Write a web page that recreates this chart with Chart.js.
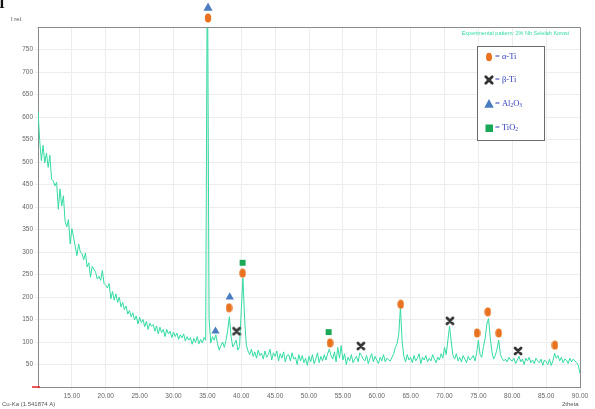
<!DOCTYPE html>
<html>
<head>
<meta charset="utf-8">
<script src="https://cdn.jsdelivr.net/npm/chart.js@4.4.1/dist/chart.umd.min.js"></script>
<style>
  html, body { margin: 0; padding: 0; background: #fff; }
  #wrap { width: 595px; height: 409px; }
</style>
</head>
<body>
<div id="wrap"><canvas id="xrd" width="595" height="409"></canvas></div>
<script>
// 2theta sampling grid of the scan
const START_2THETA = 10;
const STEP_2THETA = 0.25;

// relative intensity, four readings per degree (x.00, x.25, x.50, x.75)
const intensity = [
  612, 548, 503, 537,   // 10
  498, 520, 488, 515,   // 11
  462, 458, 447, 455,   // 12
  395, 440, 402, 425,   // 13
  368, 356, 372, 318,   // 14
  352, 333, 312, 292,   // 15
  318, 300, 296, 283,   // 16
  298, 267, 276, 244,   // 17
  268, 262, 255, 240,   // 18
  246, 237, 259, 230,   // 19
  226, 220, 230, 196,   // 20
  212, 193, 207, 188,   // 21
  200, 178, 188, 172,   // 22
  180, 162, 170, 156,   // 23
  165, 149, 158, 140,   // 24
  155, 143, 150, 134,   // 25
  146, 128, 142, 135,   // 26
  139, 124, 136, 118,   // 27
  133, 121, 128, 112,   // 28
  128, 118, 124, 110,   // 29
  122, 112, 120, 106,   // 30
  116, 109, 118, 102,   // 31
  112, 104, 110, 95,    // 32
  108, 99, 112, 96,     // 33
  106, 98, 110, 104,    // 34
  1000, 150, 98, 112,   // 35
  104, 116, 96, 82,     // 36
  92, 100, 88, 104,     // 37
  126, 156, 112, 89,    // 38
  96, 104, 82, 90,      // 39
  170, 242, 150, 93,    // 40
  80, 72, 84, 68,       // 41
  78, 64, 82, 70,       // 42
  75, 62, 80, 66,       // 43
  72, 84, 60, 76,       // 44
  68, 80, 58, 74,       // 45
  64, 78, 56, 70,       // 46
  72, 58, 76, 62,       // 47
  66, 50, 72, 58,       // 48
  70, 54, 64, 48,       // 49
  68, 56, 72, 52,       // 50
  62, 76, 54, 68,       // 51
  58, 72, 60, 74,       // 52
  84, 70, 62, 78,       // 53
  56, 88, 64, 92,       // 54
  60, 74, 50, 66,       // 55
  58, 72, 54, 62,       // 56
  68, 56, 76, 70,       // 57
  62, 58, 70, 52,       // 58
  64, 74, 56, 68,       // 59
  60, 52, 66, 58,       // 60
  72, 56, 64, 60,       // 61
  58, 66, 74, 88,       // 62
  96, 118, 178, 100,    // 63
  68, 56, 72, 60,       // 64
  66, 54, 70, 58,       // 65
  64, 74, 52, 66,       // 66
  60, 70, 56, 64,       // 67
  58, 72, 62, 54,       // 68
  66, 60, 74, 64,       // 69
  88, 72, 104, 135,     // 70
  100, 70, 62, 74,      // 71
  58, 66, 56, 70,       // 72
  62, 54, 68, 60,       // 73
  64, 70, 58, 76,       // 74
  104, 72, 66, 90,      // 75
  108, 140, 152, 110,   // 76
  78, 62, 70, 84,       // 77
  104, 72, 64, 58,      // 78
  62, 56, 66, 60,       // 79
  58, 64, 52, 60,       // 80
  68, 56, 62, 50,       // 81
  64, 58, 66, 54,       // 82
  60, 52, 64, 58,       // 83
  54, 62, 48, 60,       // 84
  56, 50, 62, 48,       // 85
  58, 75, 64, 70,       // 86
  58, 66, 54, 62,       // 87
  60, 52, 64, 56,       // 88
  62, 58, 54, 48,       // 89
  30                    // 90
];

// phase markers: [2theta, height]
const alphaTi = [[35.1, 820], [38.2, 176], [40.2, 253], [53.1, 98], [63.55, 184], [74.8, 120], [76.4, 167], [78.0, 120], [86.3, 93]];
const betaTi = [[39.3, 124], [57.65, 91], [70.8, 147], [80.85, 80]];
const al2o3 = [[35.1, 844], [36.2, 124], [38.3, 200]];
const tio2 = [[40.2, 276], [52.9, 122]];

const xTickLabels = [15, 20, 25, 30, 35, 40, 45, 50, 55, 60, 65, 70, 75, 80, 85, 90];
const yTickLabels = [50, 100, 150, 200, 250, 300, 350, 400, 450, 500, 550, 600, 650, 700, 750];

const LINE = '#33dba3';
const ORANGE = '#e8721f';
const DARK = '#333333';
const BLUE = '#4b7cc0';
const GREEN = '#19a855';

function makeIcon(w, h, draw) {
  const c = document.createElement('canvas');
  c.width = w; c.height = h;
  draw(c.getContext('2d'), w, h);
  return c;
}
function drawEllipse(ctx, cx, cy, rx, ry) {
  ctx.fillStyle = ORANGE;
  ctx.beginPath(); ctx.ellipse(cx, cy, rx, ry, 0, 0, Math.PI * 2); ctx.fill();
}
function drawCross(ctx, cx, cy, r) {
  ctx.strokeStyle = DARK; ctx.lineWidth = 2.8; ctx.lineCap = 'round';
  ctx.beginPath();
  ctx.moveTo(cx - r, cy - r); ctx.lineTo(cx + r, cy + r);
  ctx.moveTo(cx + r, cy - r); ctx.lineTo(cx - r, cy + r);
  ctx.stroke();
}
function drawTriangle(ctx, cx, cy, r) {
  ctx.fillStyle = BLUE;
  ctx.beginPath(); ctx.moveTo(cx, cy - r); ctx.lineTo(cx + r * 0.95, cy + r * 0.75); ctx.lineTo(cx - r * 0.95, cy + r * 0.75); ctx.closePath(); ctx.fill();
}
const ellipseIcon = makeIcon(7, 10, (ctx, w, h) => drawEllipse(ctx, w / 2, h / 2, 3.2, 4.6));
const crossIcon = makeIcon(10, 10, (ctx, w, h) => drawCross(ctx, w / 2, h / 2, 3));

const pts = arr => arr.map(([x, y]) => ({ x, y }));
const pattern = intensity.map((v, i) => ({ x: START_2THETA + i * STEP_2THETA, y: v }));

// text with one-digit subscripts, e.g. Al_2O_3
function subText(ctx, parts, x, y, size) {
  parts.forEach(([t, sub]) => {
    ctx.font = (sub ? size * 0.65 : size) + 'px "Liberation Serif"';
    ctx.fillText(t, x, sub ? y + 2 : y);
    x += ctx.measureText(t).width;
  });
}

const extras = {
  id: 'extras',
  afterDatasetsDraw(chart) {
    // markers of the off-scale 35° peak sit above the plot frame; chart.js skips them, draw them here
    const { ctx, chartArea: a } = chart;
    chart.data.datasets.forEach((ds, i) => {
      if (!ds.markerKind) return;
      chart.getDatasetMeta(i).data.forEach(p => {
        if (p.y >= a.top) return;
        if (ds.markerKind === 'alpha') drawEllipse(ctx, p.x, p.y, 3.2, 4.6);
        else if (ds.markerKind === 'al2o3') drawTriangle(ctx, p.x, p.y, 4.8);
      });
    });
  },
  afterDraw(chart) {
    const { ctx, chartArea: a } = chart;
    ctx.save();
    // frame top and right
    ctx.strokeStyle = '#8a8a8a'; ctx.lineWidth = 1;
    ctx.beginPath();
    ctx.moveTo(a.left, a.top + 0.5); ctx.lineTo(a.right + 0.5, a.top + 0.5); ctx.lineTo(a.right + 0.5, a.bottom);
    ctx.stroke();
    // red origin mark
    ctx.strokeStyle = '#e02020'; ctx.lineWidth = 1.5;
    ctx.beginPath(); ctx.moveTo(32, a.bottom); ctx.lineTo(a.left + 2, a.bottom); ctx.stroke();

    ctx.fillStyle = '#555';
    ctx.font = '6px "Liberation Sans"';
    ctx.textBaseline = 'alphabetic';
    ctx.fillText('I rel.', 11, 21);
    ctx.fillText('Cu-Ka (1.541874 A)', 2, 406);
    ctx.fillText('2theta', 562, 406);
    ctx.fillStyle = '#111';
    ctx.font = 'bold 15px "Liberation Serif"';
    ctx.fillText('I', -1, 8);

    ctx.fillStyle = LINE;
    ctx.font = '5.5px "Liberation Sans"';
    ctx.textAlign = 'right';
    ctx.fillText('Experimental pattern: 2% Nb Selelah Korosi', 569, 35);
    ctx.textAlign = 'left';

    // phase legend
    ctx.fillStyle = '#fff';
    ctx.fillRect(477, 46, 67, 94);
    ctx.strokeStyle = '#6b6b6b'; ctx.lineWidth = 1;
    ctx.strokeRect(477.5, 46.5, 67, 94);
    drawEllipse(ctx, 489, 57, 3, 4.3);
    drawCross(ctx, 489, 80, 3.2);
    drawTriangle(ctx, 489, 104, 5);
    ctx.fillStyle = GREEN;
    ctx.fillRect(485.5, 124.5, 7.5, 7.5);
    ctx.fillStyle = '#3540b8';
    ctx.textBaseline = 'middle';
    subText(ctx, [['= \u03b1-Ti']], 495, 57, 8.5);
    subText(ctx, [['= \u03b2-Ti']], 495, 80, 8.5);
    subText(ctx, [['= Al'], ['2', 1], ['O'], ['3', 1]], 495, 104, 8.5);
    subText(ctx, [['= TiO'], ['2', 1]], 495, 128, 8.5);
    ctx.restore();
  }
};

const markerSet = (data, kind, style, radius, color) => ({
  data: pts(data), markerKind: kind, pointStyle: style, pointRadius: radius,
  backgroundColor: color, borderColor: color, borderWidth: 0,
  showLine: false, clip: false, order: 1
});

new Chart(document.getElementById('xrd'), {
  type: 'scatter',
  data: {
    datasets: [
      { data: pattern, showLine: true, borderColor: LINE, borderWidth: 1, pointRadius: 0, tension: 0, order: 5 },
      markerSet(alphaTi, 'alpha', ellipseIcon, 4, ORANGE),
      markerSet(betaTi, 'beta', crossIcon, 4, DARK),
      markerSet(al2o3, 'al2o3', 'triangle', 4.8, BLUE),
      markerSet(tio2, 'tio2', 'rect', 4.2, GREEN)
    ]
  },
  options: {
    responsive: false,
    animation: false,
    layout: { padding: { top: 27, right: 15, bottom: 0, left: 0 } },
    plugins: { legend: { display: false }, tooltip: { enabled: false } },
    scales: {
      x: {
        type: 'linear', min: 10, max: 90,
        afterFit: s => { s.height = 22; },
        border: { color: '#8a8a8a' },
        grid: { color: '#ededed', tickLength: 3 },
        ticks: {
          stepSize: 5, autoSkip: false, maxRotation: 0, padding: 2,
          color: '#666', font: { family: 'Liberation Sans', size: 6.5 },
          callback: v => xTickLabels.includes(v) ? v.toFixed(2) : ''
        }
      },
      y: {
        min: 0, max: 800,
        afterFit: s => { s.width = 38; },
        border: { color: '#8a8a8a' },
        grid: { color: '#ededed', tickLength: 3 },
        ticks: {
          stepSize: 50, padding: 2,
          color: '#666', font: { family: 'Liberation Sans', size: 6.5 },
          callback: v => yTickLabels.includes(v) ? String(v) : ''
        }
      }
    }
  },
  plugins: [extras]
});
</script>
</body>
</html>
